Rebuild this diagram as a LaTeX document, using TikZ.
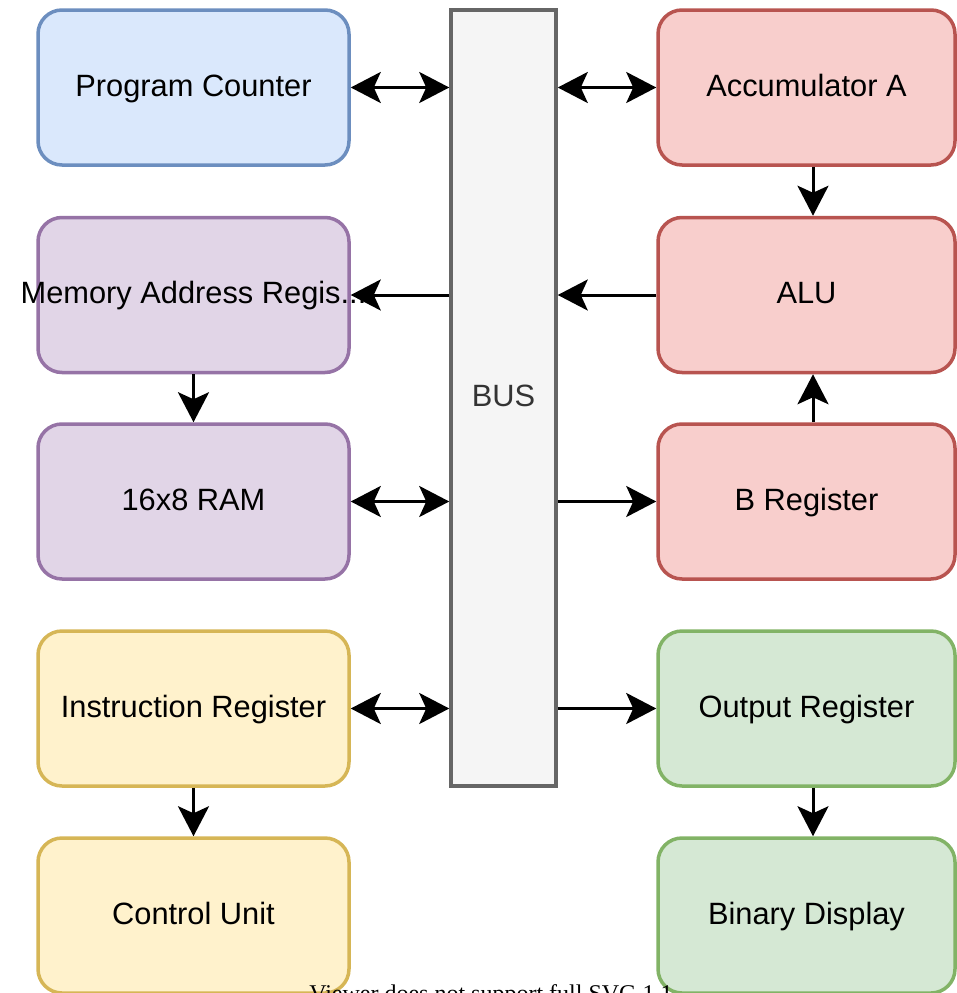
\documentclass[tikz,border=0pt]{standalone}
\usepackage{fontspec}
\setmainfont{Liberation Sans}
\newfontfamily\serifcap{Liberation Serif}
\usetikzlibrary{arrows.meta}
\definecolor{bluefill}{HTML}{DAE8FC}\definecolor{blueline}{HTML}{6C8EBF}
\definecolor{purpfill}{HTML}{E1D5E7}\definecolor{purpline}{HTML}{9673A6}
\definecolor{yelfill}{HTML}{FFF2CC}\definecolor{yelline}{HTML}{D6B656}
\definecolor{redfill}{HTML}{F8CECC}\definecolor{redline}{HTML}{B85450}
\definecolor{grnfill}{HTML}{D5E8D4}\definecolor{grnline}{HTML}{82B366}
\definecolor{busfill}{HTML}{F5F5F5}\definecolor{busline}{HTML}{666666}
\definecolor{bustext}{HTML}{333333}
\begin{document}
\begin{tikzpicture}[x=1pt,y=-1pt,
  txt/.style={font=\fontsize{30.8}{36}\selectfont, text height=22pt, text depth=5pt, inner sep=0pt},
  blk/.style={draw, rounded corners=24pt, line width=3.5pt, minimum width=311pt,
    minimum height=155pt, inner sep=0pt},
  rblk/.style={blk, minimum width=297pt},
  arr/.style={line width=3pt, -{Stealth[length=30pt,width=31pt,inset=7pt]}},
  darr/.style={line width=3pt, {Stealth[length=30pt,width=31pt,inset=7pt]}-{Stealth[length=30pt,width=31pt,inset=7pt]}}]
\path[use as bounding box] (0,0) rectangle (957,993);
\clip (0,0) rectangle (957,993);
% left column
\node[blk, fill=bluefill, draw=blueline, label={[txt]center:Program Counter}] (pc) at (193.5,87.5) {};
\node[blk, fill=purpfill, draw=purpline, label={[txt]center:Memory Address Regis...}] (mar) at (193.5,295) {};
\node[blk, fill=purpfill, draw=purpline, label={[txt]center:16x8 RAM}] (ram) at (193.5,501.5) {};
\node[blk, fill=yelfill, draw=yelline, label={[txt]center:Instruction Register}] (ir) at (193.5,708.5) {};
\node[blk, fill=yelfill, draw=yelline, label={[txt]center:Control Unit}] (cu) at (193.5,915.5) {};
% bus
\node[draw=busline, fill=busfill, line width=3.5pt, minimum width=105pt, minimum height=776pt,
  inner sep=0pt, label={[txt, text=bustext]center:BUS}] (bus) at (503.5,398) {};
% right column
\node[rblk, fill=redfill, draw=redline, label={[txt]center:Accumulator A}] (acc) at (806.5,87.5) {};
\node[rblk, fill=redfill, draw=redline, label={[txt]center:ALU}] (alu) at (806.5,295) {};
\node[rblk, fill=redfill, draw=redline, label={[txt]center:B Register}] (breg) at (806.5,501.5) {};
\node[rblk, fill=grnfill, draw=grnline, label={[txt]center:Output Register}] (out) at (806.5,708.5) {};
\node[rblk, fill=grnfill, draw=grnline, label={[txt]center:Binary Display}] (disp) at (806.5,915.5) {};
% connectors
\draw[darr] (pc.east) -- (pc.east -| bus.west);
\draw[darr] (acc.west -| bus.east) -- (acc.west);
\draw[arr] ([xshift=6.5pt]acc.south) -- ([xshift=6.5pt]alu.north);
\draw[arr] (mar.east -| bus.west) -- (mar.east);
\draw[arr] (alu.west) -- (alu.west -| bus.east);
\draw[arr] (mar.south) -- (ram.north);
\draw[darr] (ram.east) -- (ram.east -| bus.west);
\draw[arr] (breg.west -| bus.east) -- (breg.west);
\draw[arr] ([xshift=6.5pt]breg.north) -- ([xshift=6.5pt]alu.south);
\draw[darr] (ir.east) -- (ir.east -| bus.west);
\draw[arr] (out.west -| bus.east) -- (out.west);
\draw[arr] (ir.south) -- (cu.north);
\draw[arr] ([xshift=6.5pt]out.south) -- ([xshift=6.5pt]disp.north);
% cut-off fallback note
\node[font=\serifcap\fontsize{24}{28}\selectfont, anchor=base, inner sep=0pt] (note) at (491,1001) {Viewer does not support full SVG 1.1};
\end{tikzpicture}
\end{document}
